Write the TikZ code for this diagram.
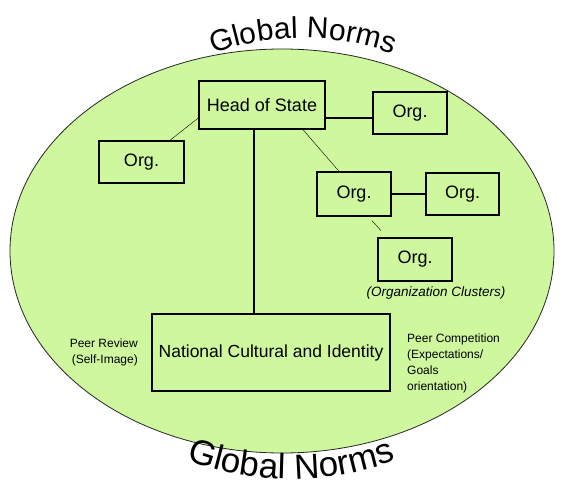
\documentclass[tikz,border=0pt]{standalone}
\usepackage{fontspec}
\setmainfont{Liberation Sans}
\usetikzlibrary{calc,decorations.text}

\definecolor{normgreen}{RGB}{206,247,158}

\begin{document}
\begin{tikzpicture}[x=1pt, y=1pt,
    every node/.style={font=\fontsize{18}{20}\selectfont},
    orgbox/.style={draw, line width=1.4pt, minimum width=74pt, minimum height=42pt, inner sep=0pt},
    sidetext/.style={font=\fontsize{12}{16}\selectfont, inner sep=0pt},
    link/.style={line width=1.3pt}]

  % 参数
  \def\rx{272}      % 椭圆横半径
  \def\ry{202}      % 椭圆纵半径
  \def\rtop{260}    % 上方文字弧半径
  \def\rbot{300}    % 下方文字弧半径

  \useasboundingbox (0,0) rectangle (562,488);

  % ---- 背景椭圆 ----
  \filldraw[fill=normgreen, draw=black!85, line width=0.8pt]
    (282,237) ellipse[x radius=\rx, y radius=\ry];

  % ---- Global Norms: 沿圆弧排字 ----
  \coordinate (T0) at ($ (303,190) + (113:\rtop) $);
  \coordinate (B0) at ($ (291,309) + (246:\rbot) $);
  \path[decorate, decoration={text along path, text align=center,
      text={|\fontsize{30}{31}\selectfont|Global Norms}}]
    (T0) arc[start angle=113, end angle=67, radius=\rtop];
  \path[decorate, decoration={text along path, text align=center,
      text={|\fontsize{35}{36}\selectfont|Global Norms}}]
    (B0) arc[start angle=246, end angle=294, radius=\rbot];

  % ---- 方框 ----
  \node[orgbox, minimum width=126pt, minimum height=48pt] (hos) at (262,383) {Head of State};
  \node[orgbox] (orgtr) at (410,375) {Org.};
  \node[orgbox, minimum width=85pt] (orgl) at (141.5,326) {Org.};
  \node[orgbox, minimum height=44pt] (orgm) at (354,294) {Org.};
  \node[orgbox, minimum width=73pt] (orgr) at (462.5,294) {Org.};
  \node[orgbox, minimum height=43pt] (orglow) at (415,228.5) {Org.};
  \node[font=\itshape\fontsize{13.5}{14}\selectfont, inner sep=0pt] (clusters)
    at (436,195) {(Organization Clusters)};
  \node[orgbox, minimum width=238pt, minimum height=77pt,
    font=\fontsize{17.5}{19}\selectfont] (nat) at (271,135.5) {National Cultural and Identity};

  % 两侧说明文字
  \node[sidetext, align=right, anchor=east] (review) at (138,135.5)
    {Peer Review\\(Self-Image)};
  \node[sidetext, align=left, anchor=west] (compete) at (407,124.5)
    {Peer Competition\\(Expectations/\\Goals\\orientation)};

  % ---- 连线 ----
  \draw[link] ([yshift=-5pt]orgtr.west) -- ([yshift=-5pt]orgtr.west -| hos.east);
  \draw[link] ([xshift=-8pt]hos.south) -- ([xshift=-8pt]hos.south |- nat.north);
  \draw[thin] ([xshift=41pt]hos.south) -- ([xshift=-15pt]orgm.north);
  \draw[thin] ([yshift=-13pt]hos.west) -- ([xshift=28.5pt]orgl.north);
  \draw[link] (orgm) -- (orgr);
  \draw[thin, shorten >=9pt] ([xshift=18pt,yshift=-4pt]orgm.south) -- ([xshift=-28pt]orglow.north);

\end{tikzpicture}
\end{document}
